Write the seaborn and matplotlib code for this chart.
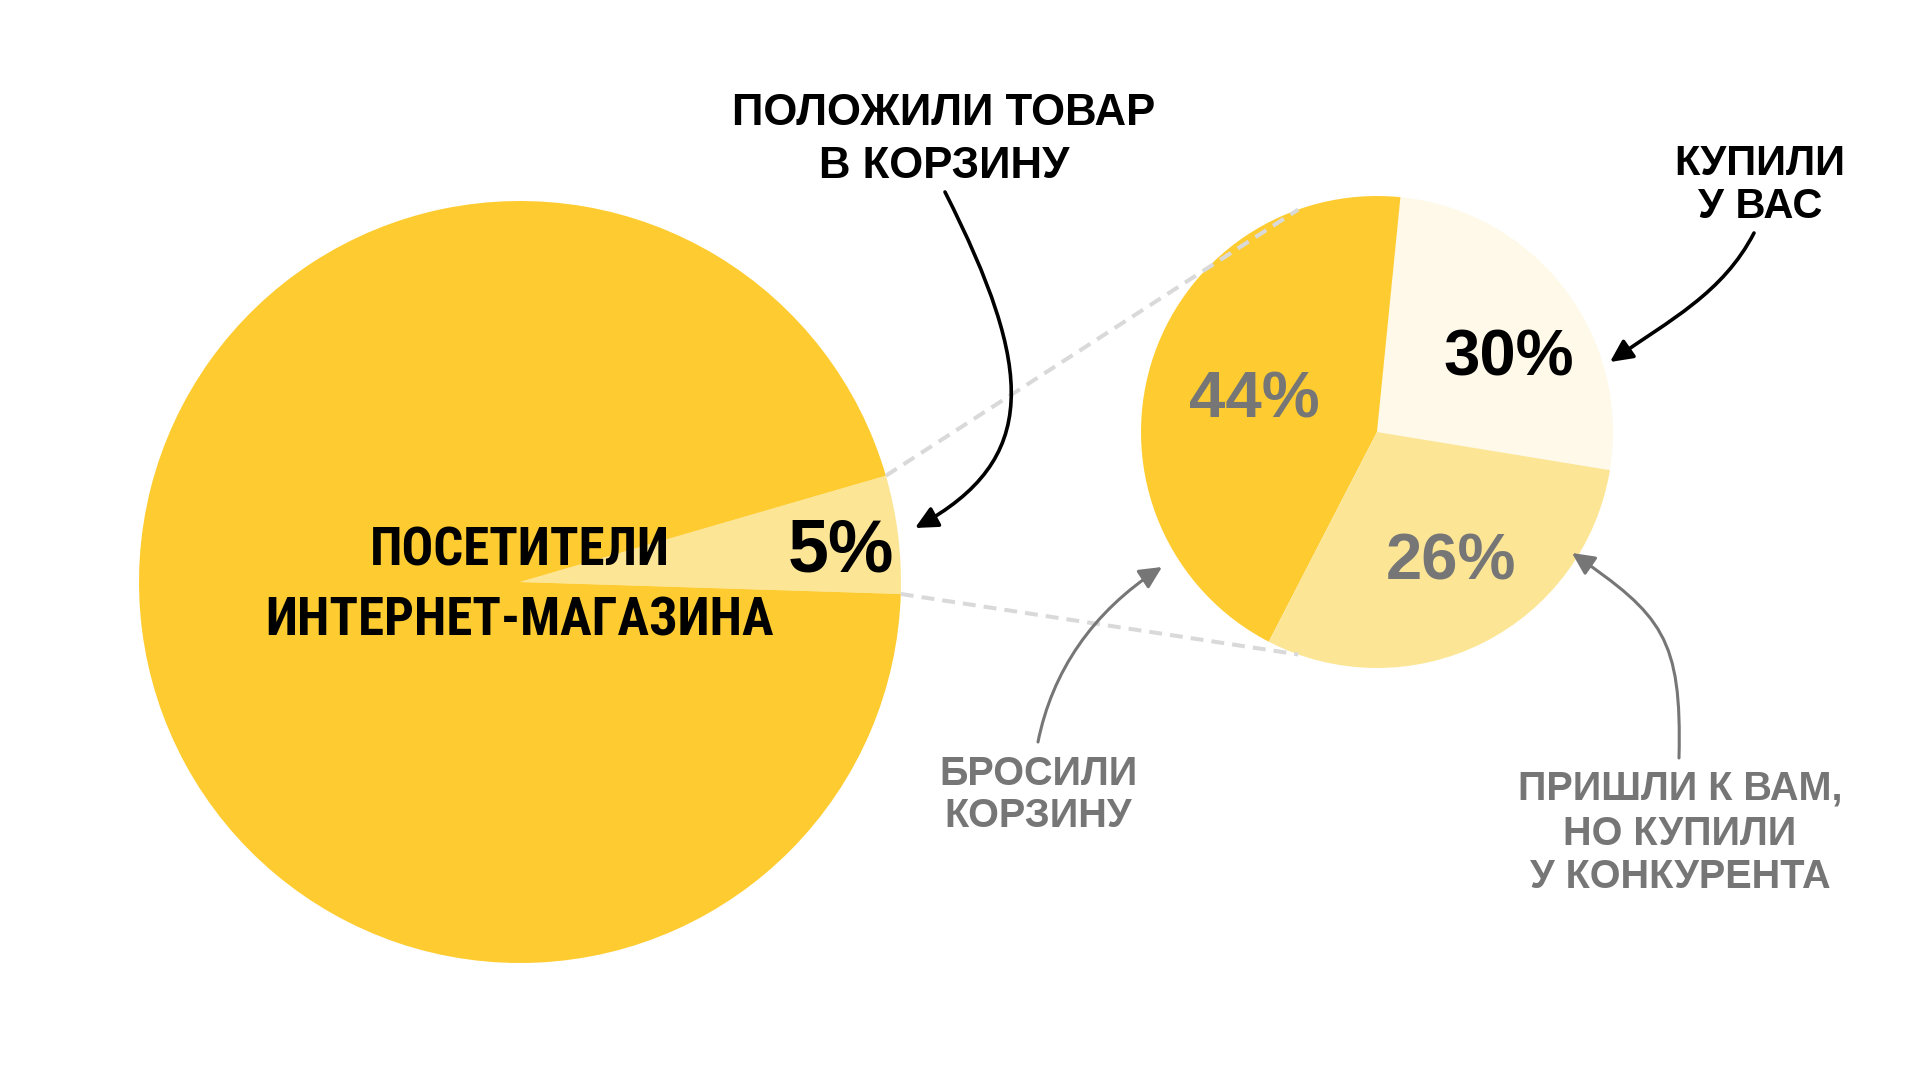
import numpy as np
import matplotlib
matplotlib.use("Agg")
import matplotlib.pyplot as plt
from matplotlib import font_manager
from matplotlib.patches import FancyArrowPatch
from matplotlib.path import Path
import seaborn as sns

# data
visitor_shares = [5, 95]                 # left pie: added to cart vs the rest
visitor_label = "5%"
cart_shares = [26, 44, 30]               # right pie, wedge sizes as drawn
cart_labels = ["30%", "44%", "26%"]      # labels as printed on those wedges
cart_label_colors = ["black", "#767676", "#767676"]

yellow = "#FECC30"
light = "#FCE696"
pale = "#FEF9E8"
grey = "#767676"
dash_grey = "#D9D9D9"

sns.set_theme(style="white")
plt.rcParams["font.family"] = ["Liberation Sans", "DejaVu Sans"]

# the centre caption is set in a condensed face; use one if installed
installed = {f.name for f in font_manager.fontManager.ttflist}
narrow_family, narrow_size = ["Liberation Sans", "DejaVu Sans"], 32
for name, size in (("Liberation Sans Narrow", 37), ("Roboto Condensed", 38),
                   ("DejaVu Sans Condensed", 35)):
    if name in installed:
        narrow_family, narrow_size = [name, "DejaVu Sans"], size
        break

fig = plt.figure(figsize=(19.2, 10.8), dpi=100)
ax = fig.add_axes([0, 0, 1, 1])

H = 1080


def Y(y):
    # layout was measured top-down in pixels
    return H - y


big_c = (520, Y(582))
big_r = 381
small_c = (1377, Y(432))
small_r = 236

big_wedges, _ = ax.pie(visitor_shares, colors=[light, yellow], startangle=-1.8,
                       center=big_c, radius=big_r, wedgeprops=dict(linewidth=0))
small_wedges, _ = ax.pie(cart_shares, colors=[pale, yellow, light], startangle=-9.3,
                         center=small_c, radius=small_r, wedgeprops=dict(linewidth=0))

ax.set_xlim(0, 1920)
ax.set_ylim(0, 1080)
ax.set_aspect("equal")
ax.axis("off")

# dashed connectors from the 5% wedge to the right pie
w = big_wedges[0]
for th, phi in ((w.theta2, 109.5), (w.theta1, -109.5)):
    x0 = big_c[0] + big_r * np.cos(np.radians(th))
    y0 = big_c[1] + big_r * np.sin(np.radians(th))
    x1 = small_c[0] + small_r * np.cos(np.radians(phi))
    y1 = small_c[1] + small_r * np.sin(np.radians(phi))
    ax.plot([x0, x1], [y0, y1], color=dash_grey, lw=2.9, ls=(0, (3.2, 2)),
            dash_capstyle="butt", zorder=3)


def label(x, y_base, s, size, color="black", family=None):
    ax.text(x, Y(y_base), s, ha="center", va="baseline", fontsize=size,
            fontweight="bold", color=color, family=family, zorder=5)


def curved_arrow(pts, color, lw):
    verts = [(x, Y(y)) for x, y in pts]
    path = Path(verts, [Path.MOVETO, Path.CURVE4, Path.CURVE4, Path.CURVE4])
    arr = FancyArrowPatch(path=path, arrowstyle="-|>,head_length=0.45,head_width=0.22",
                          mutation_scale=30, lw=lw, color=color,
                          shrinkA=0, shrinkB=0, zorder=4)
    ax.add_patch(arr)


# percentages
label(841, 571, visitor_label, 53)
for s, c, (x, yb) in zip(cart_labels, cart_label_colors,
                         [(1509, 375), (1254, 418), (1451, 580)]):
    label(x, yb, s, 47, c)

# captions
label(520, 566, "ПОСЕТИТЕЛИ", narrow_size, family=narrow_family)
label(520, 635, "ИНТЕРНЕТ-МАГАЗИНА", narrow_size, family=narrow_family)

label(944, 125, "ПОЛОЖИЛИ ТОВАР", 31.5)
label(944, 178, "В КОРЗИНУ", 31.5)

label(1760, 175, "КУПИЛИ", 30)
label(1760, 218, "У ВАС", 30)

label(1038, 785, "БРОСИЛИ", 28.5, grey)
label(1038, 827, "КОРЗИНУ", 28.5, grey)

label(1680, 800, "ПРИШЛИ К ВАМ,", 28.5, grey)
label(1680, 845, "НО КУПИЛИ", 28.5, grey)
label(1680, 888, "У КОНКУРЕНТА", 28.5, grey)

# arrows
curved_arrow([(945, 192), (1035, 370), (1040, 460), (915, 528)], "black", 2.6)
curved_arrow([(1754, 233), (1723, 293), (1670, 320), (1610, 362)], "black", 2.6)
curved_arrow([(1038, 742), (1052, 672), (1092, 612), (1162, 567)], grey, 2.2)
curved_arrow([(1679, 758), (1682, 638), (1662, 615), (1572, 553)], grey, 2.2)

fig.savefig("out.png", dpi=100, facecolor="white")
